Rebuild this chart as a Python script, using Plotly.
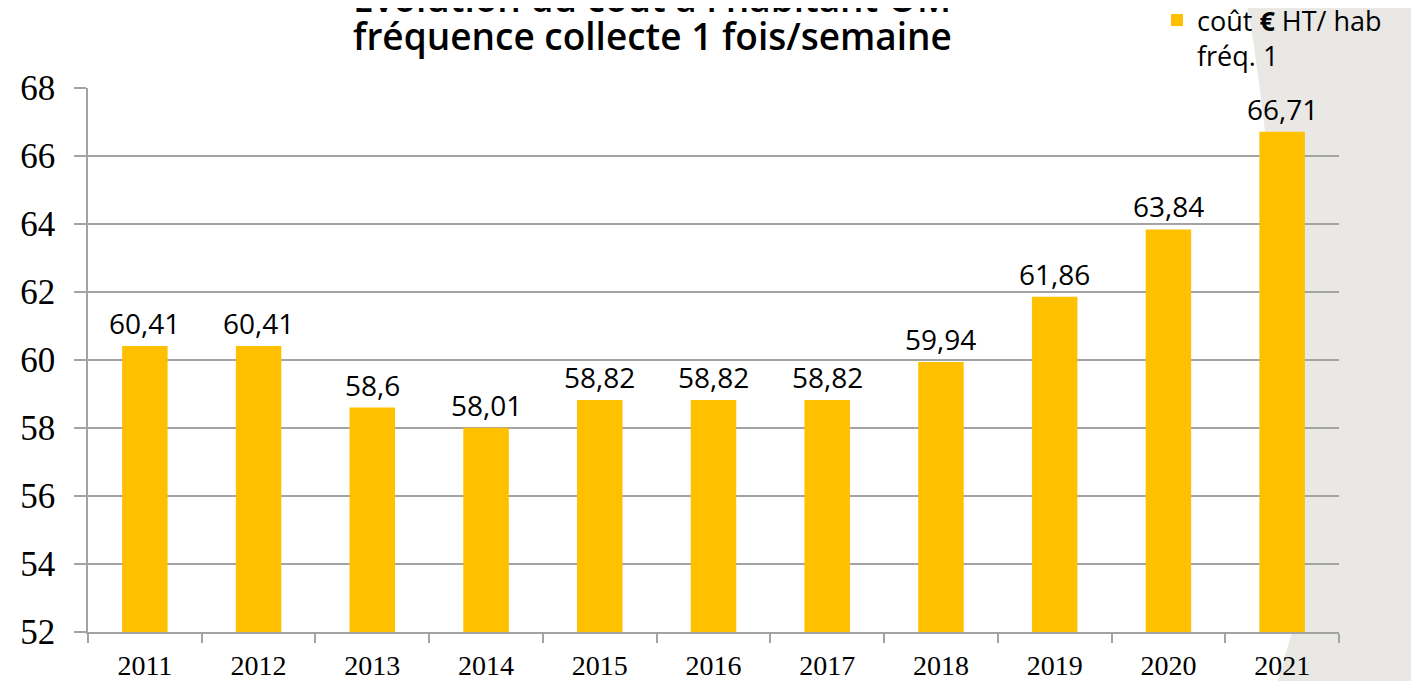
import plotly.graph_objects as go

years = ["2011", "2012", "2013", "2014", "2015", "2016", "2017", "2018", "2019", "2020", "2021"]
cost = [60.41, 60.41, 58.6, 58.01, 58.82, 58.82, 58.82, 59.94, 61.86, 63.84, 66.71]
labels = ["60,41", "60,41", "58,6", "58,01", "58,82", "58,82", "58,82", "59,94", "61,86", "63,84", "66,71"]
series_name = "coût <b>€</b> HT/ hab<br>fréq. 1"
title_line1 = "Évolution du coût à l'habitant OM"
title_line2 = "fréquence collecte 1 fois/semaine"

W, H = 1419, 681
OFF = 8  # page body margin
# plot area in page pixels: x 88..1339, y 88..632
L = 88 - OFF
T = 88 - OFF
R = W - (1339 - OFF)
B = H - (632 - OFF)
PW, PH = W - L - R, H - T - B

def px(x):
    return (x - OFF - L) / PW

def py(y):
    return (H - B - (y - OFF)) / PH

GRID = "#A3A3A3"
BAR = "#FFC000"

fig = go.Figure()
fig.add_trace(go.Bar(
    x=years, y=cost, name=series_name, width=0.4,
    marker=dict(color=BAR, line=dict(width=0)),
    showlegend=True,
))

for i, (v, t) in enumerate(zip(cost, labels)):
    fig.add_annotation(x=i, y=v, text=t, showarrow=False, yanchor="bottom",
                       yshift=2, font=dict(family="Open Sans", size=28, color="#000"))

# chart title (first line partly outside the top edge, as in the source image)
title_font = dict(family="Open Sans", size=37, color="#000", weight=600)
fig.add_annotation(text=title_line1, xref="paper", yref="paper", x=px(652), y=py(25),
                   xanchor="center", yanchor="bottom", showarrow=False, font=title_font)
fig.add_annotation(text=title_line2, xref="paper", yref="paper", x=px(652), y=py(63),
                   xanchor="center", yanchor="bottom", showarrow=False, font=title_font)

pts = [(1246, 0), (1253, 40), (1260, 90), (1266, 140), (1278, 300), (1290, 500),
       (1292, 632), (1278, 681), (1430, 681), (1430, 0)]
path = "M " + " L ".join(f"{px(a):.4f},{py(b):.4f}" for a, b in pts) + " Z"
fig.add_shape(type="path", path=path, xref="paper", yref="paper",
              fillcolor="#E9E8E5", line=dict(width=0), layer="below")

fig.update_layout(
    width=W, height=H,
    margin=dict(l=L, r=R, t=T, b=B, autoexpand=False),
    paper_bgcolor="white",
    plot_bgcolor="rgba(0,0,0,0)",
    legend=dict(x=px(1157), y=py(-4), xanchor="left", yanchor="top", valign="top",
                font=dict(family="Open Sans", size=27, color="#000"),
                bgcolor="rgba(0,0,0,0)", itemwidth=30),
    xaxis=dict(type="category", range=[-0.5, 10.5], autorange=False,
               showline=True, linecolor=GRID, linewidth=1.5,
               ticks="outside", tickson="boundaries", ticklen=9, tickcolor=GRID, tickwidth=1.5,
               showgrid=False, tickangle=0, ticklabelstandoff=8,
               tickfont=dict(family="Liberation Serif", size=28, color="#000")),
    yaxis=dict(range=[52, 68], dtick=2, showline=True, linecolor=GRID, linewidth=1.5,
               ticks="outside", ticklen=12, tickcolor=GRID, tickwidth=1.5,
               showgrid=True, gridcolor=GRID, gridwidth=1.5, zeroline=False,
               ticklabelstandoff=12,
               tickfont=dict(family="Liberation Serif", size=35, color="#000")),
)

fig.write_html("out.html")
